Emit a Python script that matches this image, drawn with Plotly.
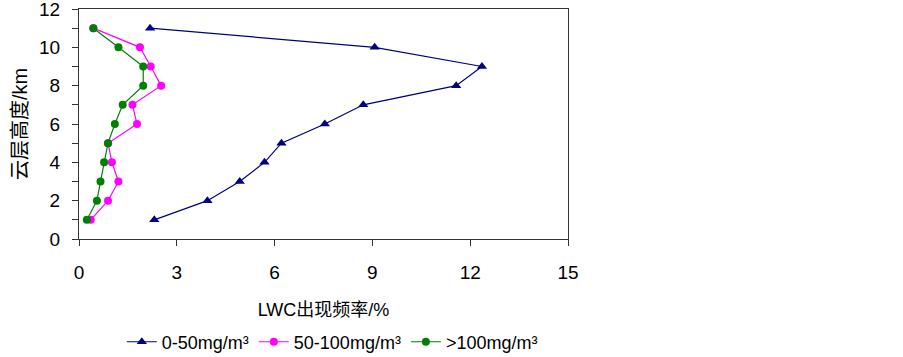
import plotly.graph_objects as go

heights = [1, 2, 3, 4, 5, 6, 7, 8, 9, 10, 11]
lwc_0_50 = [2.31, 3.94, 4.93, 5.69, 6.21, 7.54, 8.72, 11.57, 12.36, 9.07, 2.18]
lwc_50_100 = [0.36, 0.89, 1.21, 1.01, 0.89, 1.78, 1.64, 2.52, 2.20, 1.87, 0.44]
lwc_100 = [0.24, 0.55, 0.66, 0.77, 0.89, 1.10, 1.34, 1.97, 1.97, 1.21, 0.44]
names = ["0-50mg/m³", "50-100mg/m³", ">100mg/m³"]
x_ticks = [0, 3, 6, 9, 12, 15]
y_ticks = [0, 2, 4, 6, 8, 10, 12]

font_family = "Liberation Sans, Arial, Noto Sans CJK SC, sans-serif"

fig = go.Figure()
fig.add_trace(go.Scatter(x=lwc_0_50, y=heights, mode="lines+markers", name=names[0],
                         line=dict(color="#000080", width=1.2),
                         marker=dict(symbol="triangle-up", size=9, color="#000080")))
fig.add_trace(go.Scatter(x=lwc_50_100, y=heights, mode="lines+markers", name=names[1],
                         line=dict(color="#FF00FF", width=1.2),
                         marker=dict(symbol="circle", size=8, color="#FF00FF")))
fig.add_trace(go.Scatter(x=lwc_100, y=heights, mode="lines+markers", name=names[2],
                         line=dict(color="#008000", width=1.2),
                         marker=dict(symbol="circle", size=8, color="#008000")))

fig.update_layout(
    width=903, height=357,
    margin=dict(l=79, r=335, t=9, b=118, autoexpand=False),
    paper_bgcolor="white", plot_bgcolor="white",
    font=dict(family=font_family, size=18, color="black"),
    showlegend=True,
    legend=dict(orientation="h", x=0.518, xanchor="center", y=-0.448, yanchor="middle",
                font=dict(size=18), itemwidth=30, bgcolor="rgba(0,0,0,0)"),
    xaxis=dict(range=[0, 15], tickvals=x_ticks, ticks="outside", ticklen=6,
               tickcolor="#333", showline=True, linecolor="#333", linewidth=1,
               mirror=True, showgrid=False, zeroline=False, ticklabelstandoff=10,
               automargin=False, ticklabeloverflow="allow",
               title=dict(text="LWC出现频率/%", font=dict(size=18), standoff=21),
               tickfont=dict(size=19)),
    yaxis=dict(range=[0, 12], tickvals=y_ticks, ticks="outside", ticklen=6,
               tickcolor="#333", showline=True, linecolor="#333", linewidth=1,
               mirror=True, showgrid=False, zeroline=False, ticklabelstandoff=8,
               automargin=False, ticklabeloverflow="allow",
               minor=dict(dtick=1, tick0=0, ticks="outside", ticklen=6, tickcolor="#333"),
               title=dict(text="云层高度/km", font=dict(size=20), standoff=6),
               tickfont=dict(size=19)),
)

fig.write_html("out.html", config={"displayModeBar": False},
               post_script="document.body.style.margin='0';")
